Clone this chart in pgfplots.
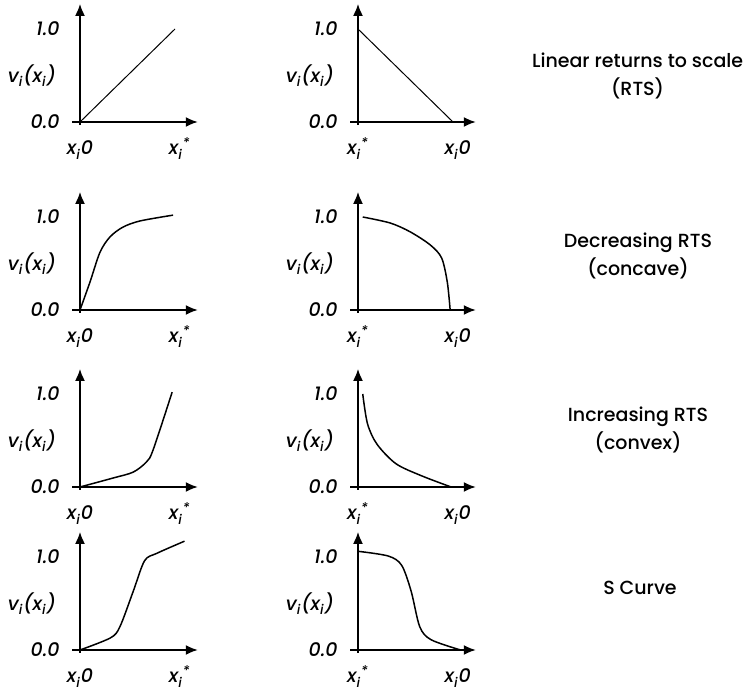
\documentclass[border=0pt]{standalone}
\usepackage{fontspec}
\setmainfont{Poppins}[UprightFont=* Medium, ItalicFont=* Medium Italic, BoldFont=* SemiBold]
\usepackage{pgfplots}
\pgfplotsset{compat=1.18}
\usetikzlibrary{arrows.meta}
\pgfplotsset{
  rts/.style={
    scale only axis, width=62.7pt, height=60.45pt,
    xmin=-0.08, xmax=1.24, ymin=-0.03, ymax=1.27,
    axis lines=middle, clip=false,
    axis line style={line width=0.9pt},
    every inner x axis line/.append style={-{Latex[length=6pt,width=5pt]}},
    every inner y axis line/.append style={-{Latex[length=6pt,width=5pt]}},
    xtick=\empty, ytick=\empty,
  },
  crv/.style={black, line width=0.75pt, no markers},
}
\tikzset{lab/.style={font=\fontsize{9.5}{11}\selectfont\itshape, inner sep=0pt}}
\newcommand{\labs}[2]{%
  \node[lab, anchor=east] at (axis cs:0,1) [xshift=-10pt] {1.0};
  \node[lab, anchor=east] at (axis cs:0,0) [xshift=-10pt] {0.0};
  \node[lab] at (axis cs:0,0.5) [xshift=-24pt] {v\textsubscript{i}(x\textsubscript{i})};
  \node[lab, anchor=base] at (axis cs:0,0) [yshift=-16.5pt] {#1};
  \node[lab, anchor=base] at (axis cs:1.05,0) [yshift=-16.5pt] {#2};}
\newcommand{\xz}{x\textsubscript{i}0}
\newcommand{\xs}{x\textsubscript{i}\textsuperscript{*}}
\begin{document}
\begin{tikzpicture}
\path[use as bounding box] (0,0) rectangle (373pt,347pt);
% Row 1
\begin{axis}[rts, at={(36.2pt,284.6pt)}, anchor=south west]
\addplot[crv, line width=0.5pt] coordinates {(0,0) (1,1)};
\labs{\xz}{\xs}
\end{axis}
\begin{axis}[rts, at={(175.2pt,284.6pt)}, anchor=south west]
\addplot[crv, line width=0.5pt] coordinates {(0,1) (1,0)};
\labs{\xs}{\xz}
\end{axis}
% Row 2
\begin{axis}[rts, at={(36.2pt,190.6pt)}, anchor=south west]
\addplot[crv, smooth] coordinates {(0,0) (0.105,0.30) (0.21,0.62) (0.315,0.785) (0.45,0.89) (0.63,0.957) (0.98,1.02)};
\labs{\xz}{\xs}
\end{axis}
\begin{axis}[rts, at={(175.2pt,190.6pt)}, anchor=south west]
\addplot[crv, smooth] coordinates {(0.05,1.0) (0.34,0.935) (0.55,0.84) (0.76,0.70) (0.88,0.56) (0.94,0.30) (0.97,0.0)};
\labs{\xs}{\xz}
\end{axis}
% Row 3
\begin{axis}[rts, at={(36.2pt,102.1pt)}, anchor=south west]
\addplot[crv, smooth] coordinates {(0,0) (0.35,0.097) (0.56,0.16) (0.70,0.27) (0.77,0.40) (0.97,1.02)};
\labs{\xz}{\xs}
\end{axis}
\begin{axis}[rts, at={(175.2pt,102.1pt)}, anchor=south west]
\addplot[crv, smooth] coordinates {(0.05,1.0) (0.10,0.68) (0.2,0.46) (0.4,0.25) (0.67,0.12) (0.98,0.0)};
\labs{\xs}{\xz}
\end{axis}
% Row 4
\begin{axis}[rts, at={(36.2pt,20.6pt)}, anchor=south west]
\addplot[crv, smooth] coordinates {(0,0) (0.32,0.13) (0.42,0.25) (0.56,0.63) (0.68,0.96) (0.81,1.04) (1.1,1.17)};
\labs{\xz}{\xs}
\end{axis}
\begin{axis}[rts, at={(175.2pt,20.6pt)}, anchor=south west]
\addplot[crv, smooth] coordinates {(0.01,1.06) (0.32,1.01) (0.46,0.91) (0.56,0.63) (0.65,0.25) (0.77,0.11) (1.08,0.0)};
\labs{\xs}{\xz}
\end{axis}
% Titles
\begin{scope}[every node/.style={align=center, font=\fontsize{9.5}{14}\selectfont}]
\node at (318.8pt,309pt) {Linear\ returns to\ scale\\(RTS)};
\node at (319pt,219pt) {Decreasing RTS\\(concave)};
\node at (319pt,132pt) {Increasing RTS\\(convex)};
\node at (320pt,53pt) {S Curve};
\end{scope}
\end{tikzpicture}
\end{document}
